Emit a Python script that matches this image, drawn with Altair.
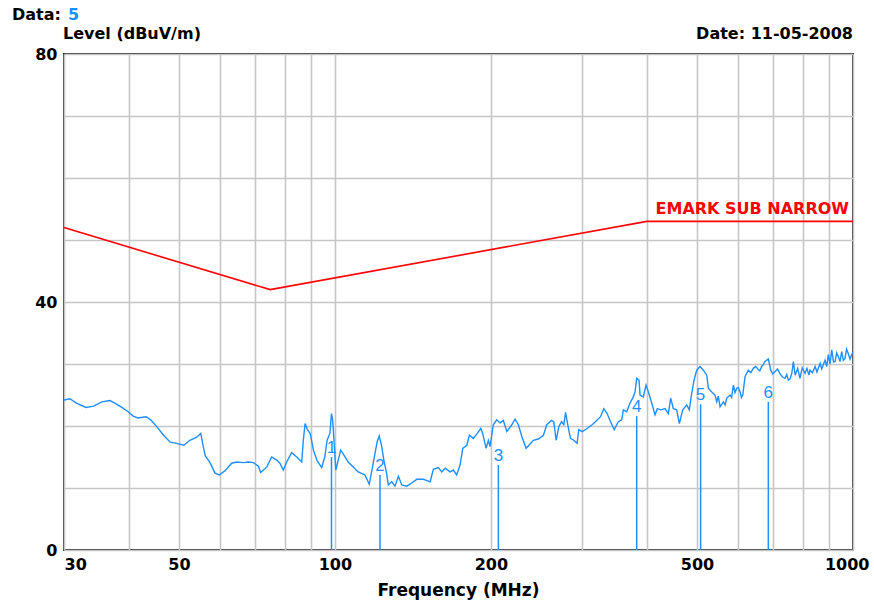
import altair as alt
import pandas as pd

# ---------------- data ----------------
trace_freq = [30.0, 30.8, 31.7, 33.1, 34.2, 35.5, 36.8, 37.6, 38.8, 39.9, 40.8, 41.7, 43.2, 44.1,
              45.3, 46.7, 48.1, 49.5, 51.1, 52.5, 54.1, 55.1, 55.7, 56.2, 57.4, 58.7, 59.8, 61.4,
              63.2, 64.6, 66.6, 68.1, 69.6, 71.2, 71.9, 73.9, 75.5, 77.2, 78.3, 79.5, 80.7, 82.5,
              84.4, 86.3, 86.9, 87.6, 88.5, 89.6, 90.9, 92.3, 94.3, 95.6, 96.6, 97.8, 98.5, 99.0,
              99.6, 100.4, 101.5, 102.6, 104.1, 106.1, 108.5, 110.9, 114.3, 116.5, 118.2, 119.5,
              120.7, 121.8, 123.1, 124.3, 125.8, 126.8, 128.7, 130.6, 132.6, 134.6, 137.7, 140.7,
              143.9, 148.2, 152.7, 154.9, 158.4, 160.8, 163.2, 166.8, 169.3, 171.8, 174.4, 176.5,
              179.7, 181.8, 185.0, 187.8, 191.2, 192.9, 195.8, 197.8, 199.3, 202.2, 205.3, 208.3,
              211.4, 214.7, 219.5, 222.7, 226.0, 229.5, 233.9, 238.1, 241.6, 247.0, 252.6, 256.4,
              261.8, 264.5, 267.3, 270.5, 273.8, 276.6, 278.7, 281.9, 284.9, 289.1, 293.4, 295.6,
              300.0, 306.7, 313.6, 318.4, 325.6, 330.4, 335.3, 340.4, 346.0, 352.4, 357.8, 360.3,
              365.8, 371.2, 376.7, 379.6, 382.4, 386.4, 388.1, 393.8, 398.6, 402.7, 408.8, 414.8,
              419.1, 425.5, 433.7, 440.1, 444.8, 450.0, 456.8, 462.2, 469.2, 477.6, 483.1, 488.4,
              493.4, 499.3, 506.7, 514.2, 522.0, 525.7, 533.8, 541.6, 545.8, 553.9, 562.1, 570.6,
              579.0, 587.6, 596.5, 605.4, 612.7, 619.0, 628.1, 642.2, 656.6, 666.6, 676.4, 686.4,
              693.8, 707.2, 723.1, 739.3, 750.2, 761.8, 767.3, 773.1, 782.0, 790.0, 798.0, 808.0,
              815.0, 822.0, 826.0, 835.0, 845.0, 852.0, 864.0, 870.0, 883.0, 890.0, 896.0, 903.0,
              910.0, 917.0, 923.5, 930.0, 936.8, 944.0, 951.0, 958.0, 965.0, 972.0, 979.0, 987.0,
              994.0, 1000.0]
trace_level = [24.2, 24.4, 23.7, 23.0, 23.2, 23.9, 24.1, 23.7, 23.0, 22.3, 21.6, 21.3, 21.5, 21.0,
               19.9, 18.5, 17.4, 17.2, 16.9, 17.7, 18.2, 18.8, 16.7, 15.2, 14.1, 12.4, 12.1, 12.8,
               14.0, 14.2, 14.1, 14.2, 14.1, 13.5, 12.5, 13.4, 15.0, 14.5, 14.0, 12.9, 14.2, 15.7,
               15.0, 14.2, 17.7, 20.4, 19.4, 18.8, 16.1, 14.5, 13.3, 15.0, 17.7, 18.8, 22.0, 21.0,
               17.7, 12.9, 14.5, 16.1, 15.3, 14.2, 13.4, 12.6, 12.1, 10.6, 13.4, 15.6,
               17.5, 18.4, 16.7, 14.5, 12.4, 10.5, 11.0, 10.3, 11.9, 10.5, 10.3, 10.8,
               11.4, 11.4, 11.0, 13.0, 13.3, 12.6, 13.2, 12.6, 12.9, 12.1, 13.7, 16.4,
               16.9, 18.5, 18.0, 18.7, 19.6, 18.8, 16.4, 17.7, 16.7, 20.2, 21.0, 20.5,
               20.9, 19.1, 20.2, 21.1, 20.2, 18.3, 16.4, 17.1, 17.7, 17.9, 18.5, 20.2,
               20.9, 20.7, 17.7, 19.9, 20.7, 20.2, 22.2, 19.9, 18.0, 17.7, 17.2, 19.4,
               19.1, 19.6, 20.2, 20.7, 21.5, 22.8, 22.0, 20.7, 19.4, 20.7, 21.0, 22.6,
               22.3, 23.7, 24.7, 25.5, 27.7, 27.4, 25.0, 24.7, 26.6, 25.5, 23.7, 21.8,
               22.8, 22.6, 22.8, 22.0, 24.5, 22.8, 22.6, 20.4, 22.6, 23.4, 22.6, 25.3,
               27.4, 29.0, 29.6, 29.0, 28.2, 26.1, 25.5, 25.0, 23.9, 23.1, 23.9, 24.5,
               25.0, 26.6, 26.1, 25.5, 25.0, 28.0, 29.0, 29.3, 29.1, 29.6, 30.4, 30.8,
               29.0, 28.8, 28.4, 27.7, 27.4, 28.5, 30.4, 28.2, 29.3, 27.7, 29.4, 28.5,
               29.3, 28.2, 29.0, 28.6, 29.6, 28.7, 30.1, 29.2, 30.6, 29.6, 31.5, 30.0,
               32.3, 30.3, 30.4, 31.8, 31.2, 30.4, 32.0, 30.6, 30.9, 32.4, 31.7, 30.8,
               31.5, 31.9]

# extra wiggles of the noisy upper band
trace_freq_extra = [549.5, 566.5, 583.0, 592.0, 601.0, 609.0, 635.0, 649.0, 661.0, 671.0,
                    700.0, 715.0, 731.0, 745.0, 756.0]
trace_level_extra = [24.8, 23.4, 24.6, 25.4, 26.2, 24.6, 28.6, 29.6, 28.9, 29.9,
                     28.4, 29.2, 27.9, 28.3, 27.6]

limit_freq = [30, 75, 400, 1000]
limit_level = [52, 42, 53, 53]
limit_name = "EMARK SUB NARROW"

marker_id = ["1", "2", "3", "4", "5", "6"]
marker_freq = [98.5, 122.2, 206.8, 382.4, 508.0, 686.4]
marker_level = [15.0, 12.1, 13.7, 21.6, 23.5, 23.9]

x_grid = [30, 40, 50, 60, 70, 80, 90, 100, 200, 300, 400, 500, 600, 700, 800, 900, 1000]
x_labels = [30, 50, 100, 200, 500, 1000]
y_grid = list(range(0, 85, 5))
y_labels = [0, 40, 80]

data_label = "Data:"
data_value = "5"
y_title = "Level (dBuV/m)"
date_text = "Date: 11-05-2008"
x_title = "Frequency (MHz)"

# ---------------- chart ----------------
BLUE = "#1e8fff"
RED = "#ff0000"
FONT = "DejaVu Sans"

W, H = 789, 496

trace_df = pd.concat([
    pd.DataFrame({"freq": trace_freq, "level": trace_level}),
    pd.DataFrame({"freq": trace_freq_extra, "level": trace_level_extra}),
]).sort_values("freq").reset_index(drop=True)
limit_df = pd.DataFrame({"freq": limit_freq, "level": limit_level})
marker_df = pd.DataFrame({"id": marker_id, "freq": marker_freq, "level": marker_level})

xscale = alt.Scale(type="log", domain=[30, 1000], nice=False)
yscale = alt.Scale(domain=[0, 80], nice=False, zero=False)

x_expr = " || ".join(f"datum.value == {v}" for v in x_labels)
y_expr = " || ".join(f"datum.value == {v}" for v in y_labels)
first_x, last_x = x_labels[0], x_labels[-1]

xaxis = alt.Axis(values=x_grid, format="d", title=None, ticks=False, domain=False,
                 labelExpr=f"({x_expr}) ? datum.label : ''",
                 labelFont=FONT, labelFontWeight="bold", labelFontSize=16, labelColor="#000",
                 labelPadding=6, labelFlush=False, labelOverlap=False,
                 labelAlign={"condition": [
                     {"test": f"datum.value == {first_x}", "value": "left"},
                     {"test": f"datum.value == {last_x}", "value": "right"}],
                     "value": "center"},
                 labelOffset={"condition": {"test": f"datum.value == {last_x}", "value": 16},
                              "value": 0},
                 grid=True, gridColor="#c6c6c6", gridWidth=1.6)
yaxis = alt.Axis(values=y_grid, format="d", title=None, ticks=False, domain=False,
                 labelExpr=f"({y_expr}) ? datum.label : ''",
                 labelFont=FONT, labelFontWeight="bold", labelFontSize=16, labelColor="#000",
                 labelPadding=7, labelOverlap=False, labelFlush=False,
                 grid=True, gridColor="#c6c6c6", gridWidth=1.6)

x_enc = alt.X("freq:Q", scale=xscale, axis=xaxis)
y_enc = alt.Y("level:Q", scale=yscale, axis=yaxis)

trace = alt.Chart(trace_df).mark_line(color=BLUE, strokeWidth=1.4, clip=True).encode(
    x=x_enc, y=y_enc)

limit = alt.Chart(limit_df).mark_line(color=RED, strokeWidth=1.6).encode(
    x=alt.X("freq:Q", scale=xscale), y=alt.Y("level:Q", scale=yscale))

limit_label = alt.Chart(pd.DataFrame({"freq": [limit_freq[-1]], "level": [limit_level[-1]],
                                      "t": [limit_name]})).mark_text(
    color=RED, font=FONT, fontWeight="bold", fontSize=16, align="right",
    baseline="alphabetic", dx=-4, dy=-7).encode(
    x=alt.X("freq:Q", scale=xscale), y=alt.Y("level:Q", scale=yscale), text="t:N")

marker_rules = alt.Chart(marker_df).mark_rule(color=BLUE, strokeWidth=1.5).encode(
    x=alt.X("freq:Q", scale=xscale), y=alt.Y("level:Q", scale=yscale), y2=alt.datum(0))

marker_text = alt.Chart(marker_df).mark_text(
    color=BLUE, font="Liberation Sans", fontSize=17, align="center",
    baseline="alphabetic", dy=-4).encode(
    x=alt.X("freq:Q", scale=xscale), y=alt.Y("level:Q", scale=yscale), text="id:N")


def header(txt, x, y, align="left", color="#000", size=16, weight="bold"):
    return alt.Chart(pd.DataFrame({"t": [txt]})).mark_text(
        font=FONT, fontSize=size, fontWeight=weight, color=color, align=align,
        baseline="alphabetic").encode(x=alt.value(x), y=alt.value(y), text="t:N")


h1 = header(data_label, -52, -34)
h2 = header(data_value, 4, -34, color=BLUE)
h3 = header(y_title, -1, -15)
h4 = header(date_text, W, -15, align="right")
h5 = header(x_title, W / 2, 542, align="center", size=17)

chart = alt.layer(trace, limit, limit_label, marker_rules, marker_text,
                  h1, h2, h3, h4, h5).properties(
    width=W, height=H,
    autosize=alt.AutoSizeParams(type="none"),
    padding={"left": 64, "top": 54, "right": 21, "bottom": 55},
    background="white",
).configure_view(stroke="#333333", strokeWidth=2)

chart.save("out.html", embed_options={"renderer": "svg", "actions": False})
